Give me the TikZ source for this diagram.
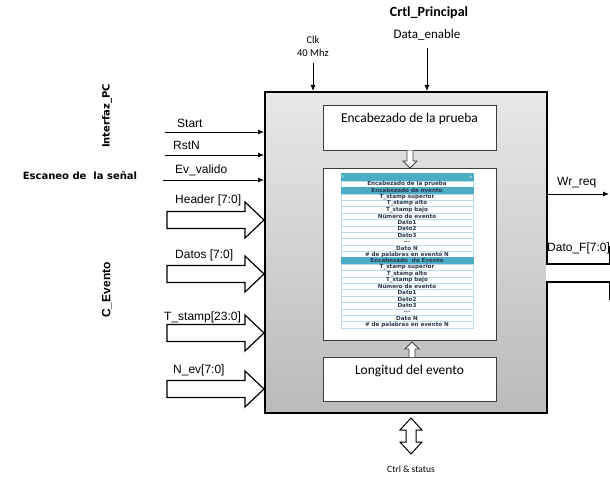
\documentclass[tikz,border=0pt]{standalone}
\usepackage{fontspec}
\setmainfont{Carlito}
\newfontfamily\dvs{DejaVu Sans}
\newfontfamily\lbs{Liberation Sans}
\usetikzlibrary{arrows.meta}
\definecolor{teal1}{RGB}{75,172,198}
\definecolor{rowline}{RGB}{183,222,232}
\definecolor{rowtext}{RGB}{45,55,75}
\definecolor{boxline}{RGB}{60,60,60}
\tikzset{
  sig/.style={draw, line width=0.8pt, -{Latex[length=6pt,width=5pt]}},
  fat/.style={draw, fill=white, line width=1.2pt, line join=miter},
  hollow/.style={draw=black!75, fill=white, line width=0.8pt},
  inbox/.style={draw=boxline, fill=white, line width=0.9pt, inner sep=0pt, anchor=north west},
  lbl/.style={font=\lbs\fontsize{12}{14}\selectfont, inner sep=0pt},
  clbl/.style={font=\fontsize{11.5}{13}\selectfont, inner sep=0pt},
  boxtxt/.style={font=\fontsize{13.5}{16}\selectfont, inner sep=0pt},
  row/.style={draw=rowline, fill=white, line width=0.4pt, minimum width=132pt,
    minimum height=6.39pt, inner sep=0pt, text=rowtext,
    font=\dvs\bfseries\fontsize{5.6}{6}\selectfont},
  tealrow/.style={fill=teal1, draw=teal1},
  fatarrow/.pic={\draw[fat] (0,-8.5) -- (78,-8.5) -- (78,-18) -- (97,0) -- (78,18) -- (78,8.5) -- (0,8.5) -- cycle;}
}
\newcommand\trow[3]{\node[row,#3] (r#1) at (407,{181+(#1-0.5)*6.39}) {#2};}
\begin{document}
\begin{tikzpicture}[x=1pt,y=-1pt]
\useasboundingbox[fill=white] (0,0) rectangle (610,478);

% main block
\node[draw, line width=1.8pt, top color=black!9, bottom color=black!27,
  minimum width=282pt, minimum height=321pt, inner sep=0pt, anchor=north west] (main) at (264,91) {};

% inner boxes
\node[inbox, minimum width=173pt, minimum height=45pt] (enc) at (323,105) {};
\node[boxtxt] (enct) at (409.5,119) {Encabezado de la prueba};
\node[inbox, minimum width=173pt, minimum height=172pt] (frame) at (323,168) {};
\node[inbox, minimum width=173pt, minimum height=44pt] (lon) at (323,357) {};
\node[boxtxt] (lont) at (409.5,371) {Longitud del evento};

% table
\node[row, tealrow, minimum height=8pt] (rh) at (407,177) {};
\node[font=\dvs\fontsize{3.5}{4}\selectfont, text=white, inner sep=1pt, anchor=west] (rhl) at (rh.west) {F};
\node[font=\dvs\fontsize{3.5}{4}\selectfont, text=white, inner sep=1pt, anchor=east] (rhr) at (rh.east) {H};
\trow{1}{Encabezado de la prueba}{}
\trow{2}{Encabezado de evento}{tealrow}
\trow{3}{T\_stamp superior}{}
\trow{4}{T\_stamp alto}{}
\trow{5}{T\_stamp bajo}{}
\trow{6}{Número de evento}{}
\trow{7}{Dato1}{}
\trow{8}{Dato2}{}
\trow{9}{Dato3}{}
\trow{10}{...}{}
\trow{11}{Dato N}{}
\trow{12}{\# de palabras en evento N}{}
\trow{13}{Encabezado \ de Evento}{tealrow}
\trow{14}{T\_stamp superior}{}
\trow{15}{T\_stamp alto}{}
\trow{16}{T\_stamp bajo}{}
\trow{17}{Número de evento}{}
\trow{18}{Dato1}{}
\trow{19}{Dato2}{}
\trow{20}{Dato3}{}
\trow{21}{...}{}
\trow{22}{Dato N}{}
\trow{23}{\# de palabras en evento N}{}

% small hollow arrows inside
\draw[hollow] (407,150.5) -- (407,161) -- (403,161) -- (410,168) -- (417,161) -- (413,161) -- (413,150.5);
\draw[hollow] (409,357) -- (409,349) -- (405,349) -- (412,342) -- (419,349) -- (415,349) -- (415,357);

% bottom double arrow
\draw[fat, line width=1pt] (411,418) -- (422,430) -- (416,430) -- (416,442) -- (422,442) -- (411,454)
  -- (400,442) -- (406,442) -- (406,430) -- (400,430) -- cycle;
\node[clbl, font=\fontsize{9.5}{11}\selectfont] (cs) at (411,469) {Ctrl \& status};

% top inputs
\node[clbl, font=\fontsize{10.5}{12}\selectfont] (clk) at (313,40) {Clk};
\node[clbl, font=\fontsize{10.5}{12}\selectfont] (mhz) at (313,53) {40 Mhz};
\coordinate (clks) at (313,63);
\draw[sig] (clks) -- (clks |- main.north);
\node[clbl, font=\bfseries\fontsize{14}{16}\selectfont] (crtl) at (429,13) {Crtl\_Principal};
\node[clbl, font=\fontsize{13}{15}\selectfont] (den) at (427,35) {Data\_enable};
\coordinate (dens) at (427,48);
\draw[sig] (dens) -- (dens |- main.north);

% group labels
\node[font=\dvs\bfseries\fontsize{10}{12}\selectfont, rotate=90, inner sep=0pt] (ipc) at (107,116) {Interfaz\_PC};
\node[font=\lbs\bfseries\fontsize{12}{14}\selectfont, rotate=90, inner sep=0pt] (cev) at (107,290) {C\_Evento};
\node[font=\dvs\bfseries\fontsize{10}{12}\selectfont, inner sep=0pt] (esc) at (80,176) {Escaneo de \ la señal};

% single-bit inputs
\node[lbl, anchor=west] (lst) at (177,123) {Start};
\coordinate (s1) at (165,132);
\draw[sig] (s1) -- (s1 -| main.west);
\node[lbl, anchor=west] (lrs) at (173,145) {RstN};
\coordinate (s2) at (165,155);
\draw[sig] (s2) -- (s2 -| main.west);
\node[lbl, anchor=west] (lev) at (175,170) {Ev\_valido};
\coordinate (s3) at (163,180);
\draw[sig] (s3) -- (s3 -| main.west);

% bus inputs
\node[lbl, anchor=west] (lhd) at (175,200) {Header [7:0]};
\pic at (167,220) {fatarrow};
\node[lbl, anchor=west] (lda) at (175,255) {Datos [7:0]};
\pic at (167,274) {fatarrow};
\node[lbl, anchor=west] (lts) at (164,317) {T\_stamp[23:0]};
\pic at (167,333) {fatarrow};
\node[lbl, anchor=west] (lnv) at (173,370) {N\_ev[7:0]};
\pic at (167,389) {fatarrow};

% outputs
\node[lbl, anchor=west] (lwr) at (557,183) {Wr\_req};
\coordinate (wr) at (609,194);
\draw[sig] (main.east |- wr) -- (wr);
\node[lbl, anchor=west] (ldf) at (547,248) {Dato\_F[7:0]};
\fill[white] (546,264) rectangle (609.5,282);
\draw[line width=1.2pt] (609.4,246) -- (609.4,264) -- (546,264) (546,282) -- (609.4,282) -- (609.4,300);
\end{tikzpicture}
\end{document}
